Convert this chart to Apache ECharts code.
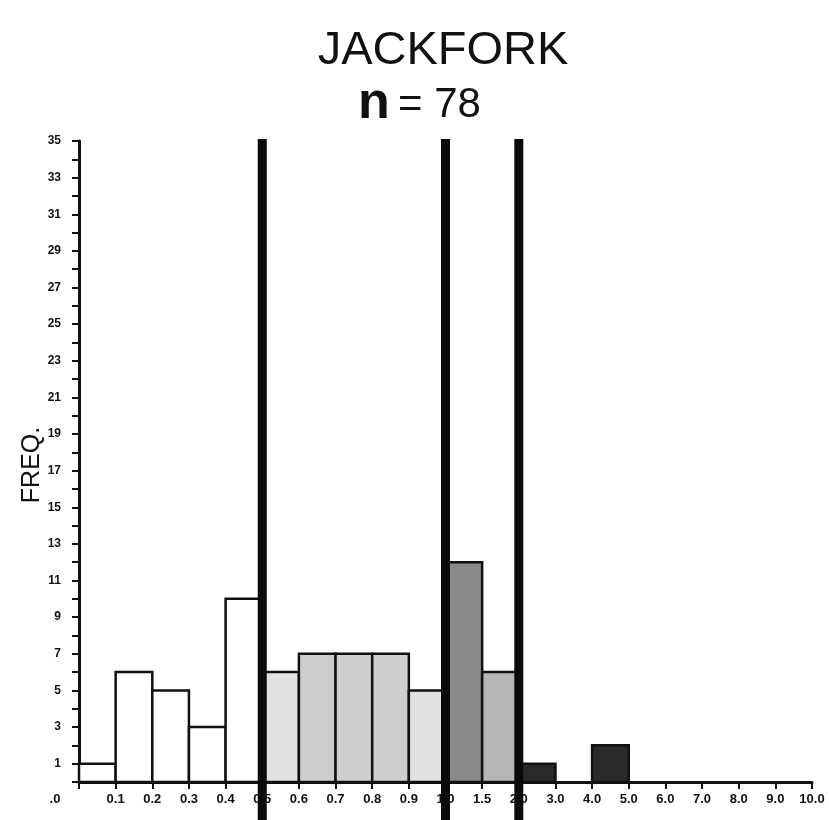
<!DOCTYPE html>
<html>
<head>
<meta charset="utf-8">
<script src="https://cdn.jsdelivr.net/npm/echarts@6/dist/echarts.min.js"></script>
<style>
html,body{margin:0;padding:0;background:#fff;}
#chart{width:829px;height:820px;}
</style>
</head>
<body>
<div id="chart"></div>
<script>
// Bin edge labels (21 edges for 20 bins)
const edgeLabels = ['.0','0.1','0.2','0.3','0.4','0.5','0.6','0.7','0.8','0.9','1.0','1.5','2.0','3.0','4.0','5.0','6.0','7.0','8.0','9.0','10.0'];
// Frequency per bin
const freq = [1,6,5,3,10,6,7,7,7,5,12,6,1,0,2,0,0,0,0,0];
// Bin-edge indices of the heavy dividing lines (0.5, 1.0, 2.0)
const dividers = [5,10,12];
const titleText = 'JACKFORK';
const nText = '= 78';

function fillFor(i){
  if (i < 5) return '#ffffff';
  if (i === 5 || i === 9) return '#e2e2e2';
  if (i < 10) return '#cecece';
  if (i === 10) return '#8a8a8a';
  if (i === 11) return '#b6b6b6';
  return '#2a2a2a';
}

const chart = echarts.init(document.getElementById('chart'), null, {renderer:'canvas'});
const FONT = 'Liberation Sans';
chart.setOption({
  backgroundColor:'#fff',
  animation:false,
  grid:{left:79, right:17, top:141, bottom:38},
  xAxis:{
    type:'value', min:0, max:20, interval:1,
    axisLine:{show:true, lineStyle:{color:'#111', width:3}},
    axisTick:{show:true, length:7, lineStyle:{color:'#111', width:2}},
    splitLine:{show:false},
    axisLabel:{
      margin:11, color:'#111', fontFamily:FONT, fontWeight:'bold', fontSize:13,
      formatter:function(v){ return v===0 ? '{f|'+edgeLabels[0]+'}' : edgeLabels[v]; },
      rich:{f:{padding:[0,48,0,0], fontFamily:FONT, fontWeight:'bold', fontSize:13, color:'#111'}}
    }
  },
  yAxis:{
    type:'value', min:0, max:35, interval:1,
    axisLine:{show:true, lineStyle:{color:'#111', width:3}},
    axisTick:{show:true, length:7, lineStyle:{color:'#111', width:2}},
    splitLine:{show:false},
    axisLabel:{
      margin:18, color:'#111', fontFamily:FONT, fontWeight:'bold', fontSize:12,
      formatter:function(v){ return (v%2===1) ? String(v) : ''; }
    }
  },
  graphic:[
    {type:'text', x:443, y:51, style:{text:titleText, font:'normal 47px "Liberation Sans"', fill:'#111', textAlign:'center', textVerticalAlign:'middle'}},
    {type:'text', x:358, y:104, style:{text:'n', font:'bold 52px "Liberation Sans"', fill:'#111', textAlign:'left', textVerticalAlign:'middle'}},
    {type:'text', x:398, y:105, style:{text:nText, font:'normal 42px "Liberation Sans"', fill:'#111', textAlign:'left', textVerticalAlign:'middle'}},
    {type:'text', x:32, y:465, rotation:Math.PI/2, style:{text:'FREQ.', font:'normal 25px "Liberation Sans"', fill:'#111', textAlign:'center', textVerticalAlign:'middle'}}
  ],
  series:[
    {
      type:'custom',
      z:3,
      data: freq.map(function(v,i){ return [i,v]; }),
      renderItem:function(params, api){
        const i = api.value(0), v = api.value(1);
        if (!v) return null;
        const p0 = api.coord([i, v]);
        const p1 = api.coord([i+1, 0]);
        return {type:'rect', shape:{x:p0[0], y:p0[1], width:p1[0]-p0[0], height:p1[1]-p0[1]},
          style:{fill:fillFor(i), stroke:'#111', lineWidth:2.5}};
      }
    },
    {
      type:'custom',
      z:5,
      clip:false,
      data: dividers.map(function(d){ return [d]; }),
      renderItem:function(params, api){
        const d = api.value(0);
        const top = api.coord([d, 35]);
        const bot = api.coord([d, 0]);
        return {type:'line', shape:{x1:top[0], y1:top[1]-2, x2:bot[0], y2:bot[1]+40},
          style:{stroke:'#0a0a0a', lineWidth:9}};
      }
    }
  ]
});
</script>
</body>
</html>
